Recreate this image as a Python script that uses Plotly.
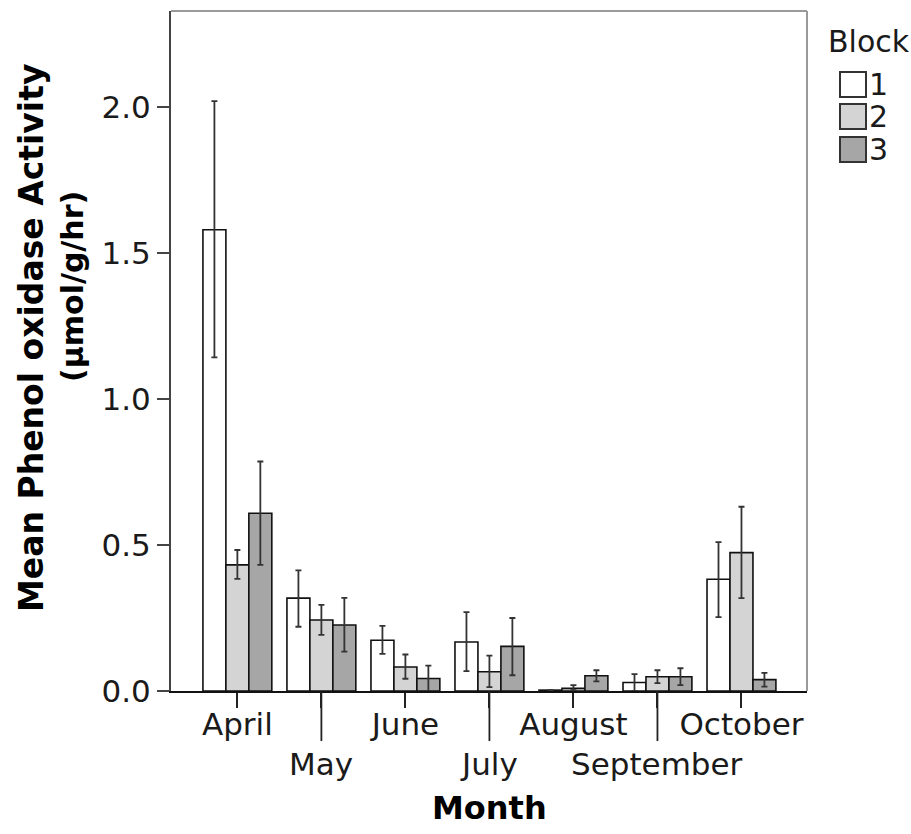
import plotly.graph_objects as go

months = ["April", "May", "June", "July", "August", "September", "October"]
blocks = ["1", "2", "3"]

block1 = [1.58, 0.318, 0.174, 0.168, 0.003, 0.029, 0.383]
block1_hi = [2.02, 0.413, 0.223, 0.27, 0.003, 0.058, 0.51]
block1_lo = [1.143, 0.22, 0.127, 0.068, 0.003, 0.0, 0.253]

block2 = [0.432, 0.243, 0.082, 0.066, 0.009, 0.049, 0.474]
block2_hi = [0.483, 0.295, 0.125, 0.121, 0.02, 0.071, 0.631]
block2_lo = [0.384, 0.192, 0.042, 0.013, 0.003, 0.027, 0.318]

block3 = [0.609, 0.226, 0.043, 0.153, 0.052, 0.049, 0.039]
block3_hi = [0.786, 0.319, 0.087, 0.25, 0.071, 0.078, 0.062]
block3_lo = [0.432, 0.135, 0.0, 0.054, 0.033, 0.02, 0.015]

yticks = [0.0, 0.5, 1.0, 1.5, 2.0]
row1_months = ["April", "June", "August", "October"]
row2_months = ["May", "July", "September"]

colors = ["#ffffff", "#d4d4d4", "#a6a6a6"]
FONT = "DejaVu Sans"
TXT = "#1a1a1a"

series = [(block1, block1_hi, block1_lo), (block2, block2_hi, block2_lo), (block3, block3_hi, block3_lo)]

fig = go.Figure()
for name, col, (v, hi, lo) in zip(blocks, colors, series):
    fig.add_trace(go.Bar(
        x=months, y=v, name=name, showlegend=False,
        marker=dict(color=col, line=dict(color="#111111", width=1.6)),
        error_y=dict(type="data", symmetric=False,
                     array=[h - a for h, a in zip(hi, v)],
                     arrayminus=[a - l for a, l in zip(v, lo)],
                     color="#333333", thickness=1.8, width=3),
    ))

fig.update_layout(
    width=911, height=834,
    margin=dict(l=171, r=104, t=11, b=143),
    paper_bgcolor="white", plot_bgcolor="white",
    barmode="group", bargap=0.18, bargroupgap=0,
    font=dict(family=FONT, size=31, color=TXT),
    xaxis=dict(
        range=[-0.79, 6.78], tickmode="array", tickvals=months,
        ticktext=[m if m in row1_months else "" for m in months],
        ticks="outside", ticklen=15, tickwidth=1.8, tickcolor="#222222",
        ticklabelstandoff=-10,
        showline=True, linecolor="#111111", linewidth=2,
        showgrid=False, zeroline=False,
        tickfont=dict(family=FONT, size=31, color=TXT),
    ),
    yaxis=dict(
        range=[0, 2.329], tickmode="array", tickvals=yticks, tickformat=".1f",
        ticks="outside", ticklen=12, tickwidth=1.8, tickcolor="#444444",
        showline=True, linecolor="#444444", linewidth=2,
        showgrid=False, zeroline=False,
        tickfont=dict(family=FONT, size=31, color=TXT),
    ),
)

# frame top/right
fig.add_shape(type="line", xref="paper", yref="paper", x0=0, x1=1, y0=1, y1=1,
              line=dict(color="#9a9a9a", width=2))
fig.add_shape(type="line", xref="paper", yref="paper", x0=1, x1=1, y0=0, y1=1,
              line=dict(color="#9a9a9a", width=2))

# long ticks + second-row labels
for m in row2_months:
    fig.add_shape(type="line", xref="x", yref="paper", x0=m, x1=m,
                  y0=0, y1=-50 / 680, line=dict(color="#222222", width=1.8))
    fig.add_annotation(x=m, xref="x", y=0, yref="paper", text=m, showarrow=False,
                       xanchor="center", yanchor="middle", yshift=-73,
                       font=dict(family=FONT, size=31, color=TXT))

# axis titles
fig.add_annotation(x=0, xref="paper", y=0.5, yref="paper",
                   text="<b>Mean Phenol oxidase Activity</b>",
                   textangle=-90, showarrow=False, xanchor="center", yanchor="middle",
                   xshift=-140, yshift=13, font=dict(family=FONT, size=33, color="#000000"))
fig.add_annotation(x=0, xref="paper", y=0.5, yref="paper",
                   text="<b>(µmol/g/hr)</b>",
                   textangle=-90, showarrow=False, xanchor="center", yanchor="middle",
                   xshift=-99, yshift=64, font=dict(family=FONT, size=30, color="#000000"))
fig.add_annotation(x=0.5, xref="paper", y=0, yref="paper", text="<b>Month</b>",
                   showarrow=False, xanchor="center", yanchor="middle", yshift=-117,
                   font=dict(family=FONT, size=32, color="#000000"))

# legend
fig.add_annotation(x=1, xref="paper", y=1, yref="paper", text="Block", showarrow=False,
                   xanchor="left", yanchor="middle", xshift=19, yshift=-30,
                   font=dict(family=FONT, size=30, color=TXT))
tops = [72, 104, 137]
for name, col, top in zip(blocks, colors, tops):
    fig.add_shape(type="rect", xref="paper", yref="paper",
                  xsizemode="pixel", ysizemode="pixel", xanchor=1, yanchor=1,
                  x0=33, x1=59, y0=11 - top, y1=11 - top - 25,
                  fillcolor=col, line=dict(color="#333333", width=2))
    fig.add_annotation(x=1, xref="paper", y=1, yref="paper", text=name, showarrow=False,
                       xanchor="left", yanchor="middle", xshift=60,
                       yshift=11 - top - 12.5,
                       font=dict(family=FONT, size=30, color=TXT))

fig.write_html("out.html")
